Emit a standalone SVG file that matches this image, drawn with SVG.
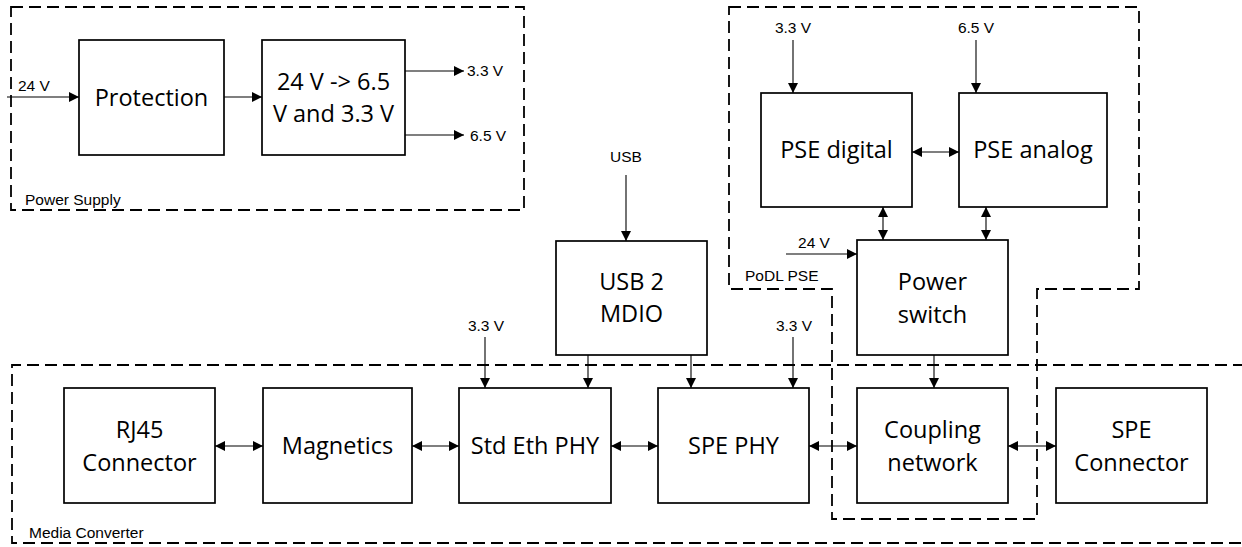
<svg xmlns="http://www.w3.org/2000/svg" width="1242" height="547" viewBox="0 0 1242 547">
<style>
.box{fill:#fff;stroke:#000;stroke-width:1.7}
.grp{fill:none;stroke:#000;stroke-width:1.8;stroke-dasharray:12 6}
.t{font-family:"Open Sans","Noto Sans",sans-serif;font-size:23.5px;fill:#000;text-anchor:middle}
.s{font-family:"Liberation Sans",Arial,sans-serif;font-size:15.5px;fill:#000}
.c{fill:none;stroke:#000;stroke-width:1.1}
.a{marker-end:url(#ah)}
.b{marker-start:url(#ah);marker-end:url(#ah)}
</style>
<defs>
<marker id="ah" viewBox="0 0 10 10" refX="10" refY="5" markerWidth="12" markerHeight="10" markerUnits="userSpaceOnUse" orient="auto-start-reverse">
<path d="M0,0 L10,5 L0,10 z" fill="#000"/>
</marker>
</defs>
<rect width="1242" height="547" fill="#fff"/>

<g id="group-power-supply">
<rect class="grp" x="11" y="7" width="513" height="203"/>
<text class="s" x="25" y="205">Power Supply</text>
</g>
<g id="group-podl-pse">
<path class="grp" d="M729,7 H1139 V289 H1037 V519 H832 V289 H729 Z"/>
<text class="s" x="745" y="281">PoDL PSE</text>
</g>
<g id="group-media-converter">
<path class="grp" d="M1245,365 H12 V543 H1245"/>
<text class="s" x="29" y="538">Media Converter</text>
</g>

<g id="protection"><rect class="box" x="79" y="40" width="145" height="115"/><text class="t" x="151.5" y="106">Protection</text></g>
<g id="converter"><rect class="box" x="262" y="40" width="143" height="115"/><text class="t" x="333.5" y="90">24 V -&gt; 6.5</text><text class="t" x="333.5" y="122">V and 3.3 V</text></g>
<g id="usb2mdio"><rect class="box" x="556" y="241" width="151" height="114"/><text class="t" x="631.5" y="290">USB 2</text><text class="t" x="631.5" y="322">MDIO</text></g>
<g id="pse-digital"><rect class="box" x="761" y="93" width="151" height="114"/><text class="t" x="836.5" y="158">PSE digital</text></g>
<g id="pse-analog"><rect class="box" x="959" y="93" width="148" height="114"/><text class="t" x="1033" y="158">PSE analog</text></g>
<g id="power-switch"><rect class="box" x="857" y="240" width="151" height="115"/><text class="t" x="932.5" y="290">Power</text><text class="t" x="932.5" y="323">switch</text></g>
<g id="rj45"><rect class="box" x="64" y="388" width="151" height="115"/><text class="t" x="139.5" y="438">RJ45</text><text class="t" x="139.5" y="471">Connector</text></g>
<g id="magnetics"><rect class="box" x="263" y="388" width="149" height="115"/><text class="t" x="337.5" y="454">Magnetics</text></g>
<g id="std-eth-phy"><rect class="box" x="459" y="388" width="152" height="115"/><text class="t" x="535" y="454">Std Eth PHY</text></g>
<g id="spe-phy"><rect class="box" x="658" y="388" width="151" height="115"/><text class="t" x="733.5" y="454">SPE PHY</text></g>
<g id="coupling-network"><rect class="box" x="857" y="388" width="151" height="115"/><text class="t" x="932.5" y="438">Coupling</text><text class="t" x="932.5" y="471">network</text></g>
<g id="spe-connector"><rect class="box" x="1056" y="388" width="151" height="115"/><text class="t" x="1131.5" y="438">SPE</text><text class="t" x="1131.5" y="471">Connector</text></g>

<g id="labels">
<text class="s" x="18" y="91">24 V</text>
<text class="s" x="467" y="76">3.3 V</text>
<text class="s" x="470" y="141">6.5 V</text>
<text class="s" x="626" y="162" text-anchor="middle">USB</text>
<text class="s" x="793" y="33" text-anchor="middle">3.3 V</text>
<text class="s" x="976" y="33" text-anchor="middle">6.5 V</text>
<text class="s" x="814" y="248" text-anchor="middle">24 V</text>
<text class="s" x="486" y="331" text-anchor="middle">3.3 V</text>
<text class="s" x="794" y="331" text-anchor="middle">3.3 V</text>
</g>

<g id="connectors">
<line class="c a" x1="7" y1="97" x2="79" y2="97"/>
<line class="c a" x1="224" y1="97" x2="262" y2="97"/>
<line class="c a" x1="405" y1="71" x2="464" y2="71"/>
<line class="c a" x1="405" y1="135" x2="464" y2="135"/>
<line class="c a" x1="626" y1="175" x2="626" y2="241"/>
<line class="c a" x1="793" y1="40" x2="793" y2="93"/>
<line class="c a" x1="976" y1="40" x2="976" y2="93"/>
<line class="c b" x1="912" y1="152" x2="959" y2="152"/>
<line class="c b" x1="883" y1="207" x2="883" y2="240"/>
<line class="c b" x1="986" y1="207" x2="986" y2="240"/>
<line class="c a" x1="786" y1="254" x2="857" y2="254"/>
<line class="c a" x1="934" y1="355" x2="934" y2="388"/>
<line class="c a" x1="588" y1="355" x2="588" y2="388"/>
<line class="c a" x1="691" y1="355" x2="691" y2="388"/>
<line class="c a" x1="485" y1="337" x2="485" y2="388"/>
<line class="c a" x1="793" y1="337" x2="793" y2="388"/>
<line class="c b" x1="215" y1="446" x2="263" y2="446"/>
<line class="c b" x1="412" y1="446" x2="459" y2="446"/>
<line class="c b" x1="611" y1="446" x2="658" y2="446"/>
<line class="c b" x1="809" y1="446" x2="857" y2="446"/>
<line class="c b" x1="1008" y1="446" x2="1056" y2="446"/>
</g>
</svg>
